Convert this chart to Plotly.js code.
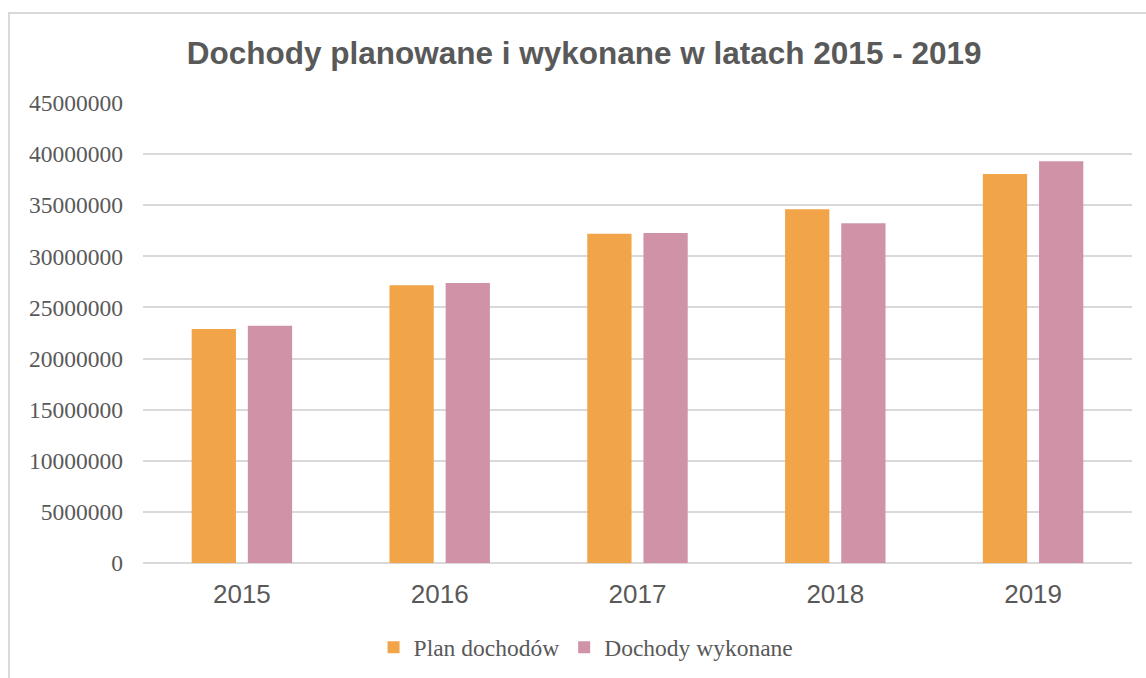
<!DOCTYPE html>
<html>
<head>
<meta charset="utf-8">
<script src="https://cdn.plot.ly/plotly-3.0.1.min.js"></script>
<style>
  html, body { margin: 0; padding: 0; background: #ffffff; overflow: hidden; }
  #chart { position: absolute; left: 0; top: 0; width: 1146px; height: 678px; }
  #frame { position: absolute; left: 8px; top: 12px; width: 1160px; height: 700px;
           border: 2px solid #d9d9d9; pointer-events: none; box-sizing: border-box; }
</style>
</head>
<body>
<div id="chart"></div>
<div id="frame"></div>
<script>
const years = ['2015', '2016', '2017', '2018', '2019'];
const planName = 'Plan dochodów';
const wykName = 'Dochody wykonane';
const planValues = [22900000, 27170000, 32220000, 34610000, 38060000];
const wykValues = [23220000, 27400000, 32290000, 33240000, 39300000];
const yTicks = [0, 5000000, 10000000, 15000000, 20000000, 25000000, 30000000, 35000000, 40000000, 45000000];
const titleText = 'Dochody planowane i wykonane w latach 2015 - 2019';

const traces = [
  { type: 'bar', name: planName, x: years, y: planValues,
    marker: { color: '#F2A548', line: { width: 0 } }, hoverinfo: 'x+y' },
  { type: 'bar', name: wykName, x: years, y: wykValues,
    marker: { color: '#D092A7', line: { width: 0 } }, hoverinfo: 'x+y' }
];

const layout = {
  width: 1146, height: 678,
  paper_bgcolor: 'rgba(0,0,0,0)', plot_bgcolor: '#ffffff',
  margin: { l: 143, r: 14, t: 103, b: 114.5, pad: 0, autoexpand: false },
  barmode: 'group', bargap: 0.432, bargroupgap: 0.212,
  title: {
    text: titleText,
    font: { family: 'Liberation Sans, Arial, sans-serif', size: 31.5, color: '#595959', weight: 'bold' },
    x: 0.446, xanchor: 'center', y: 0.922, yanchor: 'middle', xref: 'paper'
  },
  xaxis: {
    type: 'category', range: [-0.5, 4.5], automargin: false,
    showgrid: false, zeroline: false, showline: false, ticks: '',
    ticklabelstandoff: 13,
    tickfont: { family: 'Liberation Sans, Arial, sans-serif', size: 26, color: '#595959' }
  },
  yaxis: {
    range: [0, 45000000], tickmode: 'array', tickvals: yTicks, automargin: false,
    ticktext: yTicks.map(v => String(v)),
    showgrid: true, gridcolor: '#d9d9d9', gridwidth: 2,
    zeroline: true, zerolinecolor: '#d9d9d9', zerolinewidth: 2,
    showline: false, ticks: '', ticklabelstandoff: 19,
    tickfont: { family: '"Liberation Serif", "Times New Roman", serif', size: 23.5, color: '#595959' }
  },
  showlegend: true,
  legend: {
    orientation: 'h', x: 0.448, xanchor: 'center',
    yref: 'container', y: 0.045, yanchor: 'middle',
    font: { family: '"Liberation Serif", "Times New Roman", serif', size: 23.5, color: '#595959' },
    itemwidth: 30, tracegroupgap: 0, bgcolor: 'rgba(0,0,0,0)'
  }
};

Plotly.newPlot('chart', traces, layout, { displayModeBar: false, staticPlot: true });
</script>
</body>
</html>
